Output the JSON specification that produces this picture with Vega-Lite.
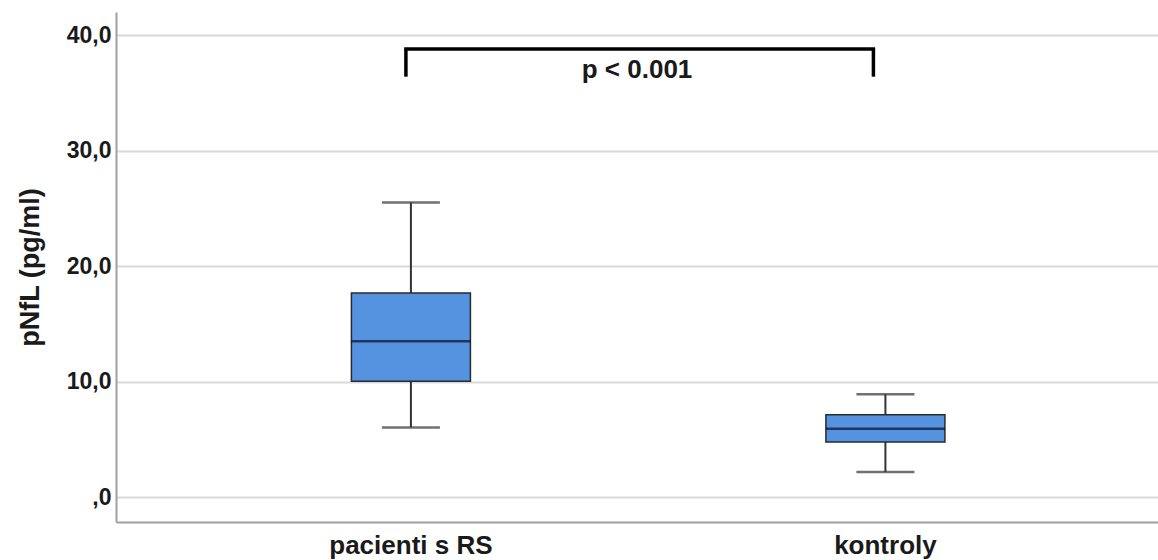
{
  "$schema": "https://vega.github.io/schema/vega-lite/v6.json",
  "width": 1042,
  "height": 510,
  "autosize": {"type": "none"},
  "padding": {"left": 116, "top": 12, "right": 0, "bottom": 38},
  "background": "white",
  "config": {
    "font": "Liberation Sans",
    "view": {"stroke": null}
  },
  "datasets": {
    "stats": [
      {"group": "pacienti s RS", "min": 6.03, "q1": 10.03, "median": 13.5, "q3": 17.67, "max": 25.5},
      {"group": "kontroly", "min": 2.18, "q1": 4.77, "median": 5.92, "q3": 7.13, "max": 8.9}
    ],
    "bracketLeft": [
      {"group": "pacienti s RS", "top": 38.8, "bottom": 36.4}
    ],
    "bracketRight": [
      {"group": "kontroly", "top": 38.8, "bottom": 36.4}
    ],
    "bracketTop": [
      {"from": "pacienti s RS", "to": "kontroly", "y": 38.8}
    ],
    "label": [
      {"text": "p < 0.001", "y": 37.0}
    ]
  },
  "layer": [
    {
      "data": {"name": "stats"},
      "mark": {"type": "rule", "color": "#333333", "strokeWidth": 2},
      "encoding": {
        "x": {
          "field": "group", "type": "nominal",
          "scale": {"domain": ["pacienti s RS", "kontroly"], "paddingInner": 0, "paddingOuter": 0.098, "align": 0.62},
          "axis": {
            "title": null, "labelAngle": 0, "ticks": false,
            "labelFont": "Liberation Sans", "labelFontWeight": "bold", "labelFontSize": 26,
            "labelColor": "#1a1a1a", "labelPadding": 10,
            "domainColor": "#a0a0a0", "domainWidth": 2, "grid": false
          }
        },
        "y": {
          "field": "min", "type": "quantitative",
          "scale": {"domain": [-2.16, 42.0], "nice": false, "zero": false},
          "axis": {
            "title": "pNfL (pg/ml)", "values": [0, 10, 20, 30, 40],
            "labelExpr": "datum.value == 0 ? ',0' : replace(format(datum.value, '.1f'), '.', ',')",
            "ticks": false, "labelPadding": 5,
            "labelFont": "Liberation Sans", "labelFontWeight": "bold", "labelFontSize": 23,
            "labelColor": "#1a1a1a",
            "titleFont": "Liberation Sans", "titleFontWeight": "bold", "titleFontSize": 27,
            "titleColor": "#1a1a1a", "titlePadding": 22,
            "domainColor": "#a0a0a0", "domainWidth": 2,
            "grid": true, "gridColor": "#d9d9d9", "gridWidth": 2
          }
        },
        "y2": {"field": "q1"}
      }
    },
    {
      "data": {"name": "stats"},
      "mark": {"type": "rule", "color": "#333333", "strokeWidth": 2},
      "encoding": {
        "x": {"field": "group", "type": "nominal"},
        "y": {"field": "q3", "type": "quantitative"},
        "y2": {"field": "max"}
      }
    },
    {
      "data": {"name": "stats"},
      "mark": {"type": "bar", "size": 119, "color": "#5592e0", "stroke": "#2a2a2a", "strokeWidth": 1.5},
      "encoding": {
        "x": {"field": "group", "type": "nominal"},
        "y": {"field": "q1", "type": "quantitative"},
        "y2": {"field": "q3"}
      }
    },
    {
      "data": {"name": "stats"},
      "mark": {"type": "tick", "size": 119, "thickness": 2.5, "color": "#0a0f2a", "orient": "horizontal"},
      "encoding": {
        "x": {"field": "group", "type": "nominal"},
        "y": {"field": "median", "type": "quantitative"}
      }
    },
    {
      "data": {"name": "stats"},
      "mark": {"type": "tick", "size": 58, "thickness": 2.5, "color": "#333333", "orient": "horizontal"},
      "encoding": {
        "x": {"field": "group", "type": "nominal"},
        "y": {"field": "max", "type": "quantitative"}
      }
    },
    {
      "data": {"name": "stats"},
      "mark": {"type": "tick", "size": 58, "thickness": 2.5, "color": "#333333", "orient": "horizontal"},
      "encoding": {
        "x": {"field": "group", "type": "nominal"},
        "y": {"field": "min", "type": "quantitative"}
      }
    },
    {
      "data": {"name": "bracketLeft"},
      "mark": {"type": "rule", "color": "#000000", "strokeWidth": 3.5, "xOffset": -5},
      "encoding": {
        "x": {"field": "group", "type": "nominal"},
        "y": {"field": "top", "type": "quantitative"},
        "y2": {"field": "bottom"}
      }
    },
    {
      "data": {"name": "bracketRight"},
      "mark": {"type": "rule", "color": "#000000", "strokeWidth": 3.5, "xOffset": -12},
      "encoding": {
        "x": {"field": "group", "type": "nominal"},
        "y": {"field": "top", "type": "quantitative"},
        "y2": {"field": "bottom"}
      }
    },
    {
      "data": {"name": "bracketTop"},
      "mark": {"type": "rule", "color": "#000000", "strokeWidth": 3.5, "xOffset": -6.7, "x2Offset": -10.3},
      "encoding": {
        "x": {"field": "from", "type": "nominal"},
        "x2": {"field": "to"},
        "y": {"field": "y", "type": "quantitative"}
      }
    },
    {
      "data": {"name": "label"},
      "mark": {"type": "text", "fontWeight": "bold", "fontSize": 26, "font": "Liberation Sans", "color": "#1a1a1a", "baseline": "middle", "align": "center"},
      "encoding": {
        "text": {"field": "text"},
        "y": {"field": "y", "type": "quantitative"}
      }
    }
  ]
}
